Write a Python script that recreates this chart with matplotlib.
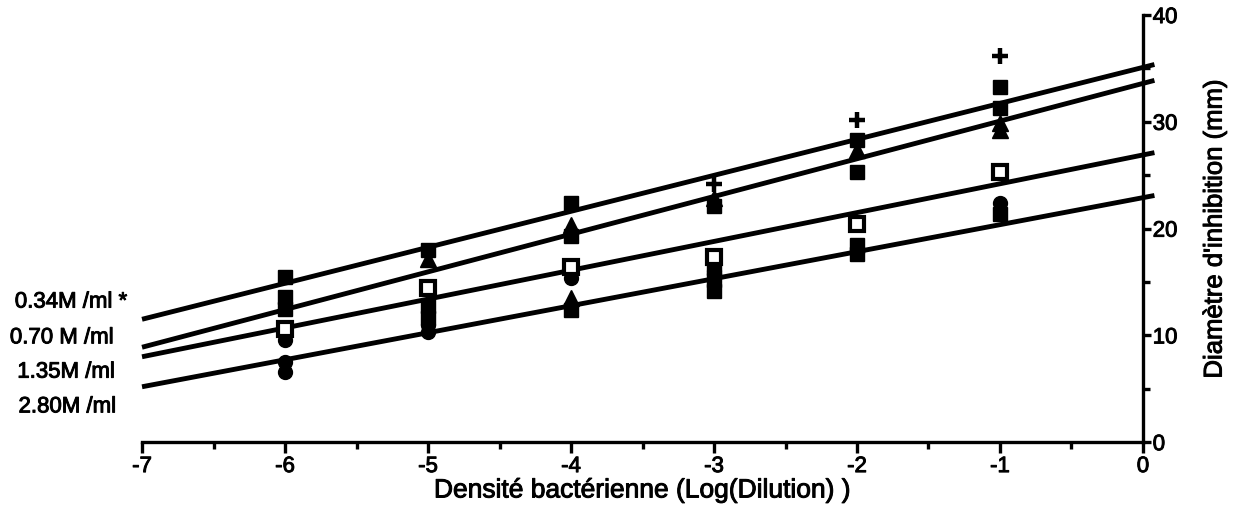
import matplotlib.pyplot as plt
import matplotlib.patheffects as pe
import numpy as np

plt.rcParams['font.family'] = ['Liberation Sans', 'DejaVu Sans']
plt.rcParams['font.size'] = 16
# slightly heavier strokes on all text
heavy = [pe.withStroke(linewidth=0.7, foreground='black')]

# regression lines: diameter = intercept + slope * log(dilution)
conc_labels = ['0.34M /ml *', '0.70 M /ml', '1.35M /ml', '2.80M /ml']
intercepts = [35.1, 33.6, 26.9, 22.9]
slopes = [3.37, 3.53, 2.70, 2.53]

# measured points, grouped by marker
sq_x = [-6, -6, -6, -5, -5, -5, -4, -4, -4, -3, -3, -3, -3, -2, -2, -2, -2, -1, -1, -1]
sq_y = [15.5, 13.6, 12.5, 18.0, 12.8, 11.6, 22.4, 19.3, 12.4, 22.1, 16.3, 15.2, 14.2,
        28.3, 25.3, 18.5, 17.6, 33.3, 31.3, 21.4]
tri_x = [-5, -4, -4, -3, -2, -1, -1]
tri_y = [17.2, 20.3, 13.5, 22.9, 27.4, 29.9, 29.2]
open_x = [-6, -5, -4, -3, -2, -1]
open_y = [10.6, 14.4, 16.4, 17.3, 20.4, 25.3]
circ_x = [-6, -6, -6, -5, -5, -4, -3, -2, -1]
circ_y = [9.6, 7.5, 6.6, 11.0, 10.3, 15.4, 16.0, 17.8, 22.4]
plus_x = [-3, -2, -1]
plus_y = [24.2, 30.2, 36.2]

fig = plt.figure(figsize=(12.35, 5.19), dpi=100)
ax = fig.add_axes([0.115, 0.148, 0.8105, 0.823])

xs = np.array([-7, 0.08])
for b, m in zip(intercepts, slopes):
    ax.plot(xs, b + m * xs, color='black', lw=3.5, solid_capstyle='butt', clip_on=False)

ax.plot(sq_x, sq_y, 's', color='black', ms=10.5, clip_on=False)
ax.plot(tri_x, tri_y, '^', color='black', ms=11, clip_on=False)
ax.plot(circ_x, circ_y, 'o', color='black', ms=10, clip_on=False)
ax.plot(open_x, open_y, 's', mfc='white', mec='black', mew=3, ms=10.5, clip_on=False)
ax.plot(plus_x, plus_y, '+', color='black', ms=12, mew=3.2, clip_on=False)

ax.set_xlim(-7, 0)
ax.set_ylim(0, 40)
ax.spines['left'].set_visible(False)
ax.spines['top'].set_visible(False)
ax.spines['bottom'].set_linewidth(2.4)
ax.spines['right'].set_linewidth(2.4)

ax.set_xticks(np.arange(-7, 1, 1))
ax.set_xticks(np.arange(-6.5, 0, 1), minor=True)
ax.set_xticklabels([str(v) for v in range(-7, 1)])
ax.tick_params(axis='x', which='major', direction='out', length=8, width=2.4, pad=2)
ax.tick_params(axis='x', which='minor', direction='out', length=5, width=2.4)

ax.yaxis.tick_right()
ax.yaxis.set_label_position('right')
ax.set_yticks([0, 10, 20, 30, 40])
ax.set_yticks([5, 15, 25, 35], minor=True)
ax.set_yticklabels(['0', '10', '20', '30', '40'])
ax.tick_params(axis='y', which='major', direction='out', length=6, width=2.4, pad=1)
ax.tick_params(axis='y', which='minor', direction='out', length=5, width=2.4)

ax.set_xlabel('Densité bactérienne (Log(Dilution) )', fontsize=19, labelpad=1)
ax.set_ylabel("Diamètre d'inhibition (mm)", fontsize=18.5, labelpad=18)

label_y = [0.418, 0.349, 0.283, 0.216]
label_x = [0.012, 0.008, 0.014, 0.015]
for lx, ly, t in zip(label_x, label_y, conc_labels):
    fig.text(lx, ly, t, fontsize=16, va='center', ha='left', path_effects=heavy)

for t in ax.get_xticklabels() + ax.get_yticklabels():
    t.set_path_effects(heavy)
ax.xaxis.label.set_path_effects(heavy)
ax.yaxis.label.set_path_effects(heavy)

fig.savefig('out.png', dpi=100)
